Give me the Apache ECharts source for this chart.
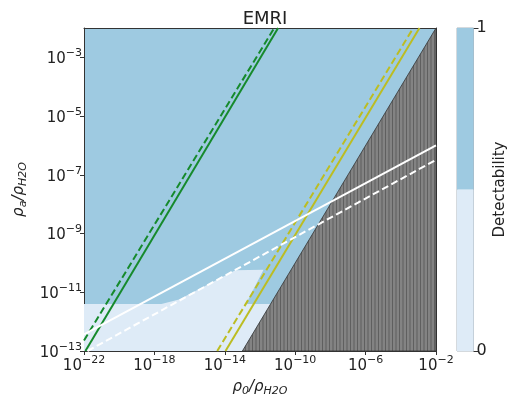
<!DOCTYPE html>
<html>
<head>
<meta charset="utf-8">
<script src="https://cdn.jsdelivr.net/npm/echarts@6/dist/echarts.min.js"></script>
<style>
html,body{margin:0;padding:0;background:#fff;}
#chart{width:509px;height:394px;}
</style>
</head>
<body>
<div id="chart"></div>
<script>
// every value below is log10 of the density ratio
var xTicks = [-22, -18, -14, -10, -6, -2];
var yTicks = [-13, -11, -9, -7, -5, -3];
var cbarTicks = [0, 1];

// region where detectability = 0 (light blue)
var undetX = [-22, -22, -17.6, -16.6, -13.4, -11.8, -12.8, -11.4, -13];
var undetY = [-13, -11.4, -11.4, -11.25, -10.25, -10.23, -11.4, -11.4, -13];

// excluded region (grey hatched)
var exclX = [-13, -2, -2];
var exclY = [-13, -2, -13];

// constraint lines, two end points each
var greenSolid = [[-21.92, -13], [-10.97, -2]];
var greenDash = [[-22, -12.64], [-11.19, -2]];
var oliveSolid = [[-13.96, -13], [-2.94, -2]];
var oliveDash = [[-14.43, -13], [-3.29, -2]];
var whiteSolid = [[-22, -12.43], [-2, -6.0]];
var whiteDash = [[-21.8, -13], [-2, -6.49]];

// colorbar levels
var cbarLevels = [[0, 0.5], [0.5, 1]];
var cbarColors = ['#deebf7', '#9ecae1'];

var font = 'DejaVu Sans';

function expLabel(v) {
    return '{b|10}{e|' + (v < 0 ? '\u2212' : '') + Math.abs(v) + '}';
}
var tickRich = {
    b: {fontSize: 15, lineHeight: 19, verticalAlign: 'bottom', color: '#222', fontFamily: font},
    e: {fontSize: 11, lineHeight: 9, verticalAlign: 'top', color: '#222', fontFamily: font}
};
var nameRich = {
    a: {fontSize: 15, lineHeight: 17, verticalAlign: 'top', fontStyle: 'italic', color: '#222', fontFamily: font},
    s: {fontSize: 11, lineHeight: 11, verticalAlign: 'bottom', fontStyle: 'italic', color: '#222', fontFamily: font}
};

// vertical stripes for the excluded region
var pat = document.createElement('canvas');
pat.width = 7; pat.height = 8;
var pc = pat.getContext('2d');
pc.fillStyle = '#838383';
pc.fillRect(0, 0, 7, 8);
pc.fillStyle = '#5f5f5f';
pc.fillRect(0, 0, 1, 8);
pc.fillRect(3.5, 0, 1, 8);

function polygon(xs, ys, style) {
    return function (params, api) {
        var pts = [];
        for (var i = 0; i < xs.length; i++) {
            pts.push(api.coord([xs[i], ys[i]]));
        }
        return {type: 'polygon', shape: {points: pts}, style: style, silent: true};
    };
}

function line(name, pts, color, dashed) {
    return {
        name: name,
        type: 'line',
        xAxisIndex: 0,
        yAxisIndex: 0,
        data: pts,
        symbol: 'none',
        silent: true,
        z: 5,
        lineStyle: {color: color, width: 2, type: dashed ? [7, 3.5] : 'solid'}
    };
}

var spine = {show: true, onZero: false, lineStyle: {color: '#333', width: 1}};

var myChart = echarts.init(document.getElementById('chart'));
var option = {
    animation: false,
    backgroundColor: '#fff',
    title: {
        text: 'EMRI',
        left: 260,
        textAlign: 'center',
        top: 5,
        textStyle: {fontSize: 18, fontWeight: 'normal', color: '#222', fontFamily: font}
    },
    grid: [
        {left: 84, top: 28, width: 352, height: 323, outerBoundsMode: 'none', show: true, backgroundColor: '#9ecae1', borderWidth: 0},
        {left: 457, top: 28, width: 16.5, height: 323, outerBoundsMode: 'none', show: true, backgroundColor: 'transparent', borderColor: '#aab4bc', borderWidth: 1}
    ],
    xAxis: [
        {
            gridIndex: 0, type: 'value', min: -22, max: -2, position: 'bottom',
            axisLine: spine,
            axisTick: {customValues: xTicks, length: 4, lineStyle: {color: '#333'}},
            axisLabel: {customValues: xTicks, margin: 4, formatter: expLabel, rich: tickRich},
            splitLine: {show: false},
            name: '{a|\u03c1}{s|0}{a|/\u03c1}{s|H2O}',
            nameLocation: 'middle',
            nameGap: 29,
            nameTextStyle: {rich: nameRich}
        },
        {
            gridIndex: 0, type: 'value', min: -22, max: -2, position: 'top',
            axisLine: spine, axisTick: {show: false}, axisLabel: {show: false}, splitLine: {show: false}
        },
        {gridIndex: 1, type: 'value', min: 0, max: 1, show: false}
    ],
    yAxis: [
        {
            gridIndex: 0, type: 'value', min: -13, max: -2, position: 'left',
            axisLine: spine,
            axisTick: {customValues: yTicks, length: 4, lineStyle: {color: '#333'}},
            axisLabel: {customValues: yTicks, margin: 2, formatter: expLabel, rich: tickRich},
            splitLine: {show: false},
            name: '{a|\u03c1}{s|a}{a|/\u03c1}{s|H2O}',
            nameLocation: 'middle',
            nameRotate: 90,
            nameGap: 50,
            nameTextStyle: {rich: nameRich}
        },
        {
            gridIndex: 0, type: 'value', min: -13, max: -2, position: 'right',
            axisLine: spine, axisTick: {show: false}, axisLabel: {show: false}, splitLine: {show: false}
        },
        {
            gridIndex: 1, type: 'value', min: 0, max: 1, position: 'right',
            axisLine: {show: false, onZero: false},
            axisTick: {customValues: cbarTicks, length: 5, lineStyle: {color: '#333'}},
            axisLabel: {customValues: cbarTicks, margin: 3, fontSize: 16, color: '#222', fontFamily: font},
            splitLine: {show: false},
            name: 'Detectability',
            nameLocation: 'middle',
            nameRotate: 90,
            nameGap: 19,
            nameTextStyle: {fontSize: 15, color: '#222', fontFamily: font}
        }
    ],
    series: [
        {
            name: 'undetectable', type: 'custom', xAxisIndex: 0, yAxisIndex: 0, data: [0], z: 2,
            renderItem: polygon(undetX, undetY, {fill: '#deebf7'})
        },
        {
            name: 'excluded', type: 'custom', xAxisIndex: 0, yAxisIndex: 0, data: [0], z: 3,
            renderItem: polygon(exclX, exclY, {fill: {image: pat, repeat: 'repeat'}, stroke: '#333', lineWidth: 0.8})
        },
        line('green', greenSolid, '#168a2c', false),
        line('green dashed', greenDash, '#168a2c', true),
        line('olive', oliveSolid, '#bcbd22', false),
        line('olive dashed', oliveDash, '#bcbd22', true),
        line('white', whiteSolid, '#ffffff', false),
        line('white dashed', whiteDash, '#ffffff', true),
        {
            name: 'colorbar', type: 'custom', xAxisIndex: 2, yAxisIndex: 2, data: cbarLevels,
            renderItem: function (params, api) {
                var lo = api.coord([0, api.value(0)]);
                var hi = api.coord([1, api.value(1)]);
                return {
                    type: 'rect',
                    shape: {x: lo[0], y: hi[1], width: hi[0] - lo[0], height: lo[1] - hi[1]},
                    style: {fill: cbarColors[params.dataIndex]}
                };
            }
        }
    ]
};
myChart.setOption(option);
</script>
</body>
</html>
